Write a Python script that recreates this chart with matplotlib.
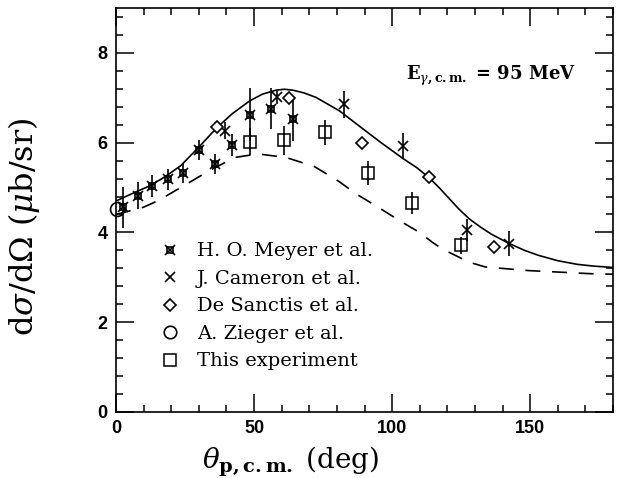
import matplotlib
matplotlib.use("Agg")
import matplotlib.pyplot as plt
from matplotlib.ticker import MultipleLocator
from matplotlib.legend_handler import HandlerTuple
from matplotlib.lines import Line2D

plt.rcParams["font.family"] = ["DejaVu Serif"]
plt.rcParams["mathtext.fontset"] = "dejavuserif"

# --- data ---
meyer_x = [2.6, 7.8, 13.1, 18.7, 24.3, 30.0, 36.0, 42.1, 48.7, 56.0, 64.0]
meyer_y = [4.56, 4.82, 5.03, 5.18, 5.32, 5.84, 5.53, 5.95, 6.62, 6.76, 6.53]
meyer_err = [0.45, 0.30, 0.25, 0.23, 0.22, 0.22, 0.22, 0.25, 0.59, 0.46, 0.50]

cameron_x = [39.6, 58.2, 82.4, 104.1, 127.2, 142.2]
cameron_y = [6.27, 7.01, 6.86, 5.93, 4.06, 3.75]
cameron_err = [0.18, 0.15, 0.30, 0.28, 0.25, 0.28]

sanctis_x = [36.6, 62.6, 89.1, 113.4, 136.8]
sanctis_y = [6.36, 7.00, 5.99, 5.23, 3.67]

zieger_x = [0.5]
zieger_y = [4.53]

this_x = [48.7, 61.0, 75.8, 91.1, 107.3, 125.0]
this_y = [6.02, 6.05, 6.23, 5.32, 4.66, 3.71]
this_err = [0.30, 0.33, 0.28, 0.27, 0.24, 0.18]

solid_x = [0, 6, 12.3, 18, 23.5, 30, 36.3, 42, 48.4, 53, 58, 61, 64, 68, 72.4,
           80.9, 88.1, 96, 104.1, 109, 113.4, 117, 120.6, 124.2, 128, 132,
           136, 142.2, 148, 153, 160, 167, 173, 180]
solid_y = [4.70, 4.87, 5.04, 5.25, 5.49, 5.90, 6.32, 6.64, 6.93, 7.08, 7.17,
           7.19, 7.17, 7.11, 7.01, 6.71, 6.37, 6.00, 5.64, 5.44, 5.22, 5.00,
           4.76, 4.52, 4.30, 4.12, 3.96, 3.76, 3.60, 3.49, 3.37, 3.29, 3.25,
           3.22]

dash_x = [0, 9.9, 15.3, 23.7, 33.9, 43, 51.4, 61.6, 71.8, 80.9, 86.9, 92.9,
          100.7, 105.5, 109.7, 114.6, 118.2, 124.2, 127.8, 133.8, 149.5,
          172.3, 180]
dash_y = [4.40, 4.56, 4.71, 5.01, 5.38, 5.67, 5.75, 5.67, 5.47, 5.13, 4.86,
          4.64, 4.34, 4.16, 4.01, 3.78, 3.63, 3.45, 3.34, 3.23, 3.15, 3.08,
          3.07]

fig = plt.figure(figsize=(6.18, 4.78), dpi=100)
ax = fig.add_axes([116 / 618, 66 / 478, 497 / 618, 404 / 478])

ax.plot(solid_x, solid_y, color="black", lw=1.2)
ax.plot(dash_x, dash_y, color="black", lw=1.2, dashes=(9, 7))

eb = dict(fmt="none", ecolor="black", elinewidth=1.2, capsize=0)
ax.errorbar(meyer_x, meyer_y, yerr=meyer_err, **eb)
ax.errorbar(cameron_x, cameron_y, yerr=cameron_err, **eb)
ax.errorbar(this_x, this_y, yerr=this_err, **eb)

mk_sq = dict(marker="s", ms=4.5, mfc="none", mec="black", mew=1.2, ls="none")
mk_x = dict(marker="x", ms=7, mec="black", mew=1.2, ls="none")
ax.plot(meyer_x, meyer_y, **mk_sq)
ax.plot(meyer_x, meyer_y, **mk_x)
ax.plot(cameron_x, cameron_y, **mk_x)
ax.plot(sanctis_x, sanctis_y, marker="D", ms=6, mfc="white", mec="black",
        mew=1.2, ls="none")
ax.plot(zieger_x, zieger_y, marker="o", ms=10, mfc="none", mec="black",
        mew=1.2, ls="none", clip_on=False)
ax.plot(this_x, this_y, marker="s", ms=9, mfc="none", mec="black", mew=1.1,
        ls="none")

ax.set_xlim(0, 180)
ax.set_ylim(0, 9)
ax.xaxis.set_major_locator(MultipleLocator(50))
ax.xaxis.set_minor_locator(MultipleLocator(10))
ax.yaxis.set_major_locator(MultipleLocator(2))
ax.yaxis.set_minor_locator(MultipleLocator(0.4))
ax.tick_params(which="both", direction="in", top=True, right=True, width=1.1)
ax.tick_params(which="major", length=13)
ax.tick_params(which="minor", length=5)
ax.tick_params(axis="x", pad=6)
ax.tick_params(axis="y", pad=6)
for lab in ax.get_xticklabels() + ax.get_yticklabels():
    lab.set_family("Liberation Sans")
    lab.set_fontweight("bold")
    lab.set_fontsize(13)
for sp in ax.spines.values():
    sp.set_linewidth(1.2)

ax.set_xlabel(r"$\theta_{\mathbf{p,c.m.}}$ (deg)", fontsize=20)
ax.xaxis.set_label_coords(0.352, -0.082)
ax.set_ylabel(r"d$\sigma$/d$\Omega$ ($\mu$b/sr)", fontsize=23)
ax.yaxis.set_label_coords(-0.148, 0.458)

ax.text(105, 7.49, r"E$_{\gamma\mathbf{,c.m.}}$ = 95 MeV", fontsize=13,
        fontweight="bold", va="center", ha="left")

h_meyer = (Line2D([], [], **mk_sq), Line2D([], [], **mk_x))
h_cam = Line2D([], [], **mk_x)
h_san = Line2D([], [], marker="D", ms=6, mfc="white", mec="black", mew=1.2,
               ls="none")
h_zie = Line2D([], [], marker="o", ms=9, mfc="none", mec="black", mew=1.2,
               ls="none")
h_this = Line2D([], [], marker="s", ms=9, mfc="none", mec="black", mew=1.1,
                ls="none")
ax.legend([h_meyer, h_cam, h_san, h_zie, h_this],
          ["H. O. Meyer et al.", "J. Cameron et al.", "De Sanctis et al.",
           "A. Zieger et al.", "This experiment"],
          handler_map={tuple: HandlerTuple(ndivide=1, pad=0)},
          loc="upper left", bbox_to_anchor=(0.0885, 0.42), frameon=False,
          fontsize=14, handlelength=1.0, handletextpad=0.89, labelspacing=0.49,
          borderpad=0, borderaxespad=0)

fig.savefig("out.png", dpi=100)
